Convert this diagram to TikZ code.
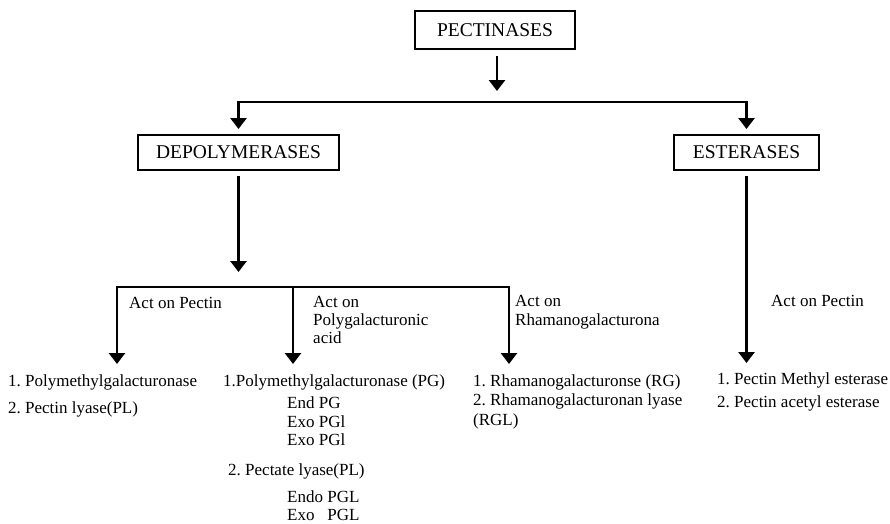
\documentclass[tikz,border=0pt]{standalone}
\usepackage{fontspec}
\setmainfont{Liberation Serif}
\usetikzlibrary{arrows.meta}
\frenchspacing

\tikzset{
  box/.style={draw, line width=2pt, inner sep=0pt, font=\fontsize{19.5}{22}\selectfont},
  link/.style={line width=2.8pt, line join=miter},
  arr/.style={link, -{Triangle[width=16pt,length=11pt]}},
  lbl/.style={anchor=base west, inner sep=0pt, font=\fontsize{17}{18.5}\selectfont},
}

\begin{document}
\begin{tikzpicture}[x=1pt, y=-1pt]
  \useasboundingbox (0,0) rectangle (890,523);

  % category boxes
  \node[box, minimum width=160pt, minimum height=38pt] (pect) at (495,30) {PECTINASES};
  \node[box, minimum width=201pt, minimum height=35pt] (depol) at (238.5,152.5) {DEPOLYMERASES};
  \node[box, minimum width=145pt, minimum height=35pt] (ester) at (746.5,152.5) {ESTERASES};

  % branching points and arrow tips
  \coordinate (split) at (497,102);
  \coordinate (dsplit) at (238.5,287);
  \coordinate (tipA) at (117,364);
  \coordinate (tipB) at (293,364);
  \coordinate (tipC) at (509,364);
  \coordinate (tipE) at (746.5,363);

  % top level
  \draw[arr, shorten <=6pt, shorten >=11pt] (split |- pect.south) -- (split);
  \draw[arr, shorten >=5pt] (split) -| (depol.north);
  \draw[arr, shorten >=5pt] (split) -| (ester.north);

  % depolymerases branches
  \draw[arr, shorten <=5pt, shorten >=15pt] (depol.south) -- (dsplit);
  \draw[arr] (dsplit) -| (tipA);
  \draw[arr] (dsplit) -| (tipC);
  \draw[arr] (tipB |- dsplit) -- (tipB);

  % esterases branch
  \draw[arr, shorten <=5pt] (ester.south) -- (tipE);

  % branch labels
  \node[lbl] (lA) at (129,308) {Act on Pectin};
  \node[lbl] (lB1) at (313,307) {Act on};
  \node[lbl] (lB2) at (313,325) {Polygalacturonic};
  \node[lbl] (lB3) at (313,343) {acid};
  \node[lbl] (lC1) at (515,306) {Act on};
  \node[lbl] (lC2) at (515,325) {Rhamanogalacturona};
  \node[lbl] (lE) at (771,306) {Act on Pectin};

  % enzyme lists
  \node[lbl] (a1) at (8,386) {1. Polymethylgalacturonase};
  \node[lbl] (a2) at (8,413) {2. Pectin lyase(PL)};

  \node[lbl] (b1) at (223,386) {1.Polymethylgalacturonase (PG)};
  \node[lbl] (b1a) at (287,408) {End PG};
  \node[lbl] (b1b) at (287,427) {Exo PGl};
  \node[lbl] (b1c) at (287,445) {Exo PGl};
  \node[lbl] (b2) at (228,475) {2. Pectate lyase(PL)};
  \node[lbl] (b2a) at (287,502) {Endo PGL};
  \node[lbl] (b2b) at (287,520) {Exo~~~PGL};

  \node[lbl] (c1) at (473,386) {1. Rhamanogalacturonse (RG)};
  \node[lbl] (c2) at (473,405) {2. Rhamanogalacturonan lyase};
  \node[lbl] (c3) at (473,425) {(RGL)};

  \node[lbl] (e1) at (717,384) {1. Pectin Methyl esterase};
  \node[lbl] (e2) at (717,407) {2. Pectin acetyl esterase};
\end{tikzpicture}
\end{document}
